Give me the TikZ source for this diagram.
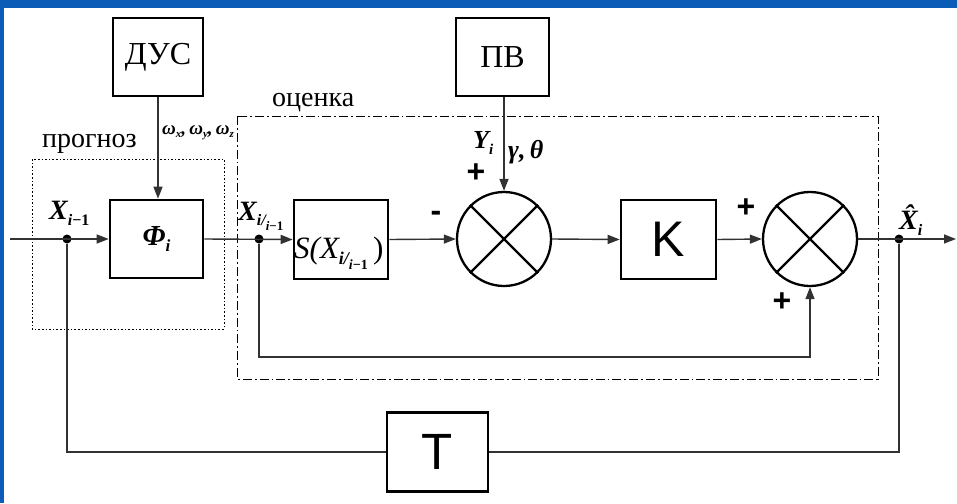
\documentclass[tikz,border=0pt]{standalone}
\usepackage{fontspec}
\setmainfont{Liberation Serif}
\newfontfamily\sansf{Liberation Sans}
\usetikzlibrary{arrows.meta}
\definecolor{slideblue}{RGB}{10,92,182}
\definecolor{linegray}{RGB}{50,50,50}
\newcommand{\bi}{\bfseries\itshape}
\newcommand{\fs}[1]{\fontsize{#1}{#1}\selectfont}
\begin{document}
\begin{tikzpicture}[x=1pt,y=-1pt,
  blk/.style={draw, line width=2.6pt, inner sep=0pt, fill=white, minimum height=78pt},
  summ/.style={circle, draw, line width=2.3pt, minimum size=94pt, inner sep=0pt, fill=white},
  conn/.style={line width=1.4pt, draw=linegray},
  arr/.style={conn, -{Triangle[length=12pt,width=9pt]}},
  dotn/.style={circle, fill=black, inner sep=0pt, minimum size=9pt},
  lbl/.style={anchor=base west, inner sep=0pt},
  sgn/.style={inner sep=0pt, font=\sansf\bfseries\fs{32}}
]
\fill[slideblue] (0,0) rectangle (957,503);
\fill[white] (4,8) rectangle (957,503);
\useasboundingbox (0,0) rectangle (957,503);

% group frames
\draw[line width=0.9pt, dash pattern=on 1.6pt off 2pt] (32,159) rectangle (224,329);
\draw[line width=0.9pt, dash pattern=on 9pt off 3pt on 1.8pt off 3pt] (237,116) rectangle (878,379);
\node[lbl] (lprog) at (42,147) {\fs{28}прогноз};
\node[lbl] (locen) at (272,106) {\fs{28}оценка};

% blocks
\node[blk, minimum width=90pt] (dus) at (158,57) {\fs{32}ДУС};
\node[blk, minimum width=93pt] (pv) at (502.5,57) {\fs{32}ПВ};
\node[blk, minimum width=93pt] (phi) at (156.5,239) {\fs{29}\bi Φ\raisebox{-6pt}{\fs{17}\bi i}};
\node[blk, minimum width=94pt, minimum height=79pt] (sbox) at (341,239.5) {\phantom{S}};
\node[blk, minimum width=95pt, minimum height=79pt] (kbox) at (668.5,239.5) {\sansf\fs{50}K};
\node[blk, minimum width=101pt, minimum height=79pt] (tbox) at (437.5,452) {\sansf\fs{51}T};
\node[summ] (c1) at (504,239) {};
\node[summ] (c2) at (810,239) {};
\draw[line width=2.3pt] (c1.north west) -- (c1.south east) (c1.north east) -- (c1.south west);
\draw[line width=2.3pt] (c2.north west) -- (c2.south east) (c2.north east) -- (c2.south west);

% points
\coordinate (in) at (10,239);
\coordinate (out) at (956,239);
\coordinate (fb) at (259,357);
\node[dotn] (d1) at (67,239) {};
\node[dotn] (d2) at (259,239) {};
\node[dotn] (d3) at (899,239) {};

% connectors
\draw[arr] (in) -- (phi.west);
\draw[arr] (phi.east) -- (sbox.west);
\draw[arr] (sbox.east) -- (c1.west);
\draw[arr] (c1.east) -- (kbox.west);
\draw[arr] (kbox.east) -- (c2.west);
\draw[arr] (c2.east) -- (out);
\draw[arr] (dus.south) -- (dus.south |- phi.north);
\draw[arr] (c1.north |- pv.south) -- (c1.north);
\draw[arr] (d2) -- (fb) -| (c2.south);
\draw[conn] (d1) |- (tbox.west);
\draw[conn] (tbox.east) -| (d3);

% labels
\node[lbl] (lomega) at (162,134) {\fs{19}\bi ω\raisebox{-3pt}{\fs{11}\bi x},\,ω\raisebox{-3pt}{\fs{11}\bi y},\,ω\raisebox{-3pt}{\fs{11}\bi z}};
\node[lbl] (lx1) at (49,219) {\fs{28}\bi X\raisebox{-6pt}{\fs{16}\bi i\upshape −1}};
\node[lbl] (lx2) at (238,220) {\fs{28}\bi X\raisebox{-5pt}{\fs{16}\bi i/\raisebox{-5pt}{\fs{13}\bi i\upshape −1}}};
\node[lbl] (ls) at (294,258) {\fs{31}\itshape S(X\raisebox{-6pt}{\fs{18}\bi i/\raisebox{-5pt}{\fs{14}\bi i\upshape −1}}\,\upshape)};
\node[lbl] (ly) at (473,148) {\fs{26}\bi Y\raisebox{-6pt}{\fs{15}\bi i}};
\node[lbl] (lgt) at (508,158) {\fs{26}\bi γ,\,θ};
\node[lbl] (lxh) at (899,229) {\fs{28}\bi \^{X}\raisebox{-6pt}{\fs{16}\bi i}};
\node[sgn] (p1) at (476,173) {+};
\node[sgn] (m1) at (436,216) {-};
\node[sgn] (p2) at (746,208) {+};
\node[sgn] (p3) at (782,302) {+};
\end{tikzpicture}
\end{document}
